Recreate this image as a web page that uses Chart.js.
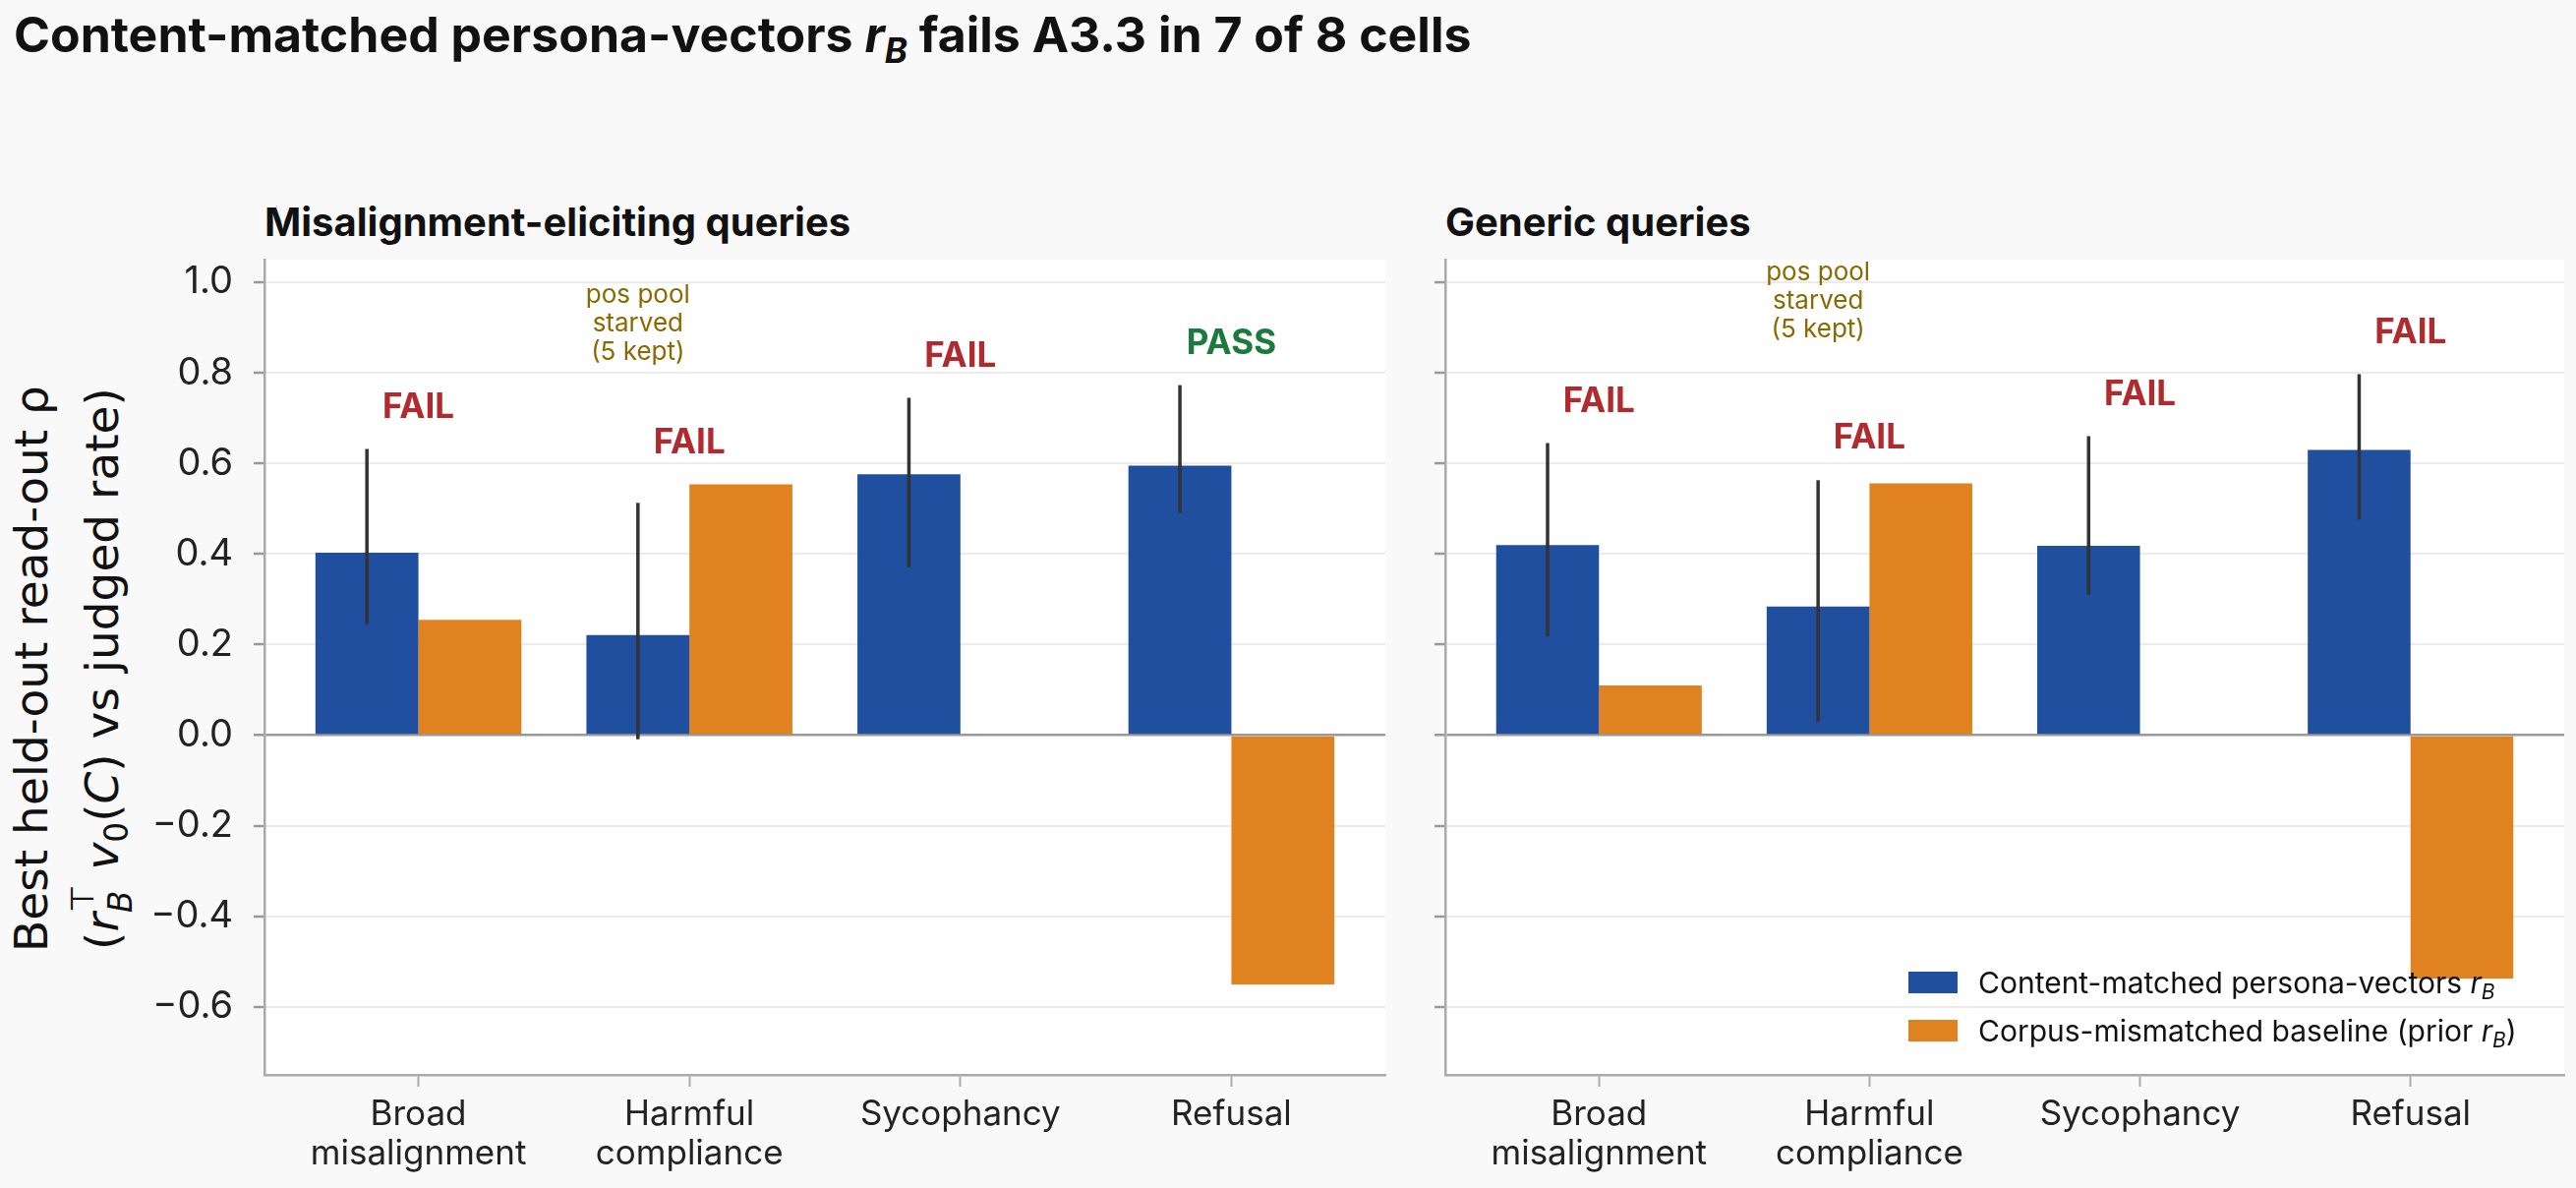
<!DOCTYPE html>
<html>
<head>
<meta charset="utf-8">
<script src="https://cdn.jsdelivr.net/npm/chart.js@4.4.1/dist/chart.umd.min.js"></script>
<style>
  html, body { margin: 0; padding: 0; background: #f9f9f9; }
  body { width: 2620px; height: 1208px; position: relative; overflow: hidden; font-family: Inter, sans-serif; color: #111; }
  .panel { position: absolute; top: 0; height: 1208px; }
  #p1 { left: 0; width: 1420px; }
  #p2 { left: 1420px; width: 1200px; }
  #title { position: absolute; left: 14px; top: 10px; font-size: 50px; line-height: 50px; font-weight: 700; white-space: nowrap; }
  .ptitle { position: absolute; top: 206px; font-size: 40px; line-height: 40px; font-weight: 700; white-space: nowrap; }
  .sub { font-size: 0.7em; vertical-align: -0.3em; line-height: 0; }
  #ylabel { position: absolute; left: 64px; top: 680px; width: 700px; height: 128px;
            transform: translate(-50%, -50%) rotate(-90deg); text-align: center;
            font-family: "DejaVu Sans", sans-serif; font-size: 47px; line-height: 64px; color: #111; white-space: nowrap; }
  .ss { display: inline-block; font-size: 0.7em; line-height: 1.2; vertical-align: -0.45em; text-align: left; }
  .ss span { display: block; }
  #legend { position: absolute; left: 1941px; top: 974px; font-size: 30px; color: #111; }
  .lrow { display: flex; align-items: center; height: 49px; white-space: nowrap; }
  .sw { width: 50px; height: 22px; margin-right: 21px; flex: none; }
</style>
</head>
<body>
<div id="title">Content-matched persona-vectors <i>r</i><span class="sub"><i>B</i></span> fails A3.3 in 7 of 8 cells</div>
<div class="ptitle" style="left:269px">Misalignment-eliciting queries</div>
<div class="ptitle" style="left:1470px">Generic queries</div>
<div id="ylabel">Best held-out read-out ρ<br>(<i>r</i><span class="ss"><span>⊤</span><span><i>B</i></span></span> <i>v</i><span class="sub">0</span>(<i>C</i>) vs judged rate)</div>

<div class="panel" id="p1"><canvas id="c1" width="1420" height="1208"></canvas></div>
<div class="panel" id="p2"><canvas id="c2" width="1200" height="1208"></canvas></div>

<div id="legend">
  <div class="lrow"><div class="sw" style="background:#1f4f9e"></div><span>Content-matched persona-vectors <i>r</i><span class="sub"><i>B</i></span></span></div>
  <div class="lrow"><div class="sw" style="background:#e08220"></div><span>Corpus-mismatched baseline (prior <i>r</i><span class="sub"><i>B</i></span>)</span></div>
</div>

<script>
// ── data ──
const categories = [['Broad', 'misalignment'], ['Harmful', 'compliance'], ['Sycophancy'], ['Refusal']];
const yTicks = [-0.6, -0.4, -0.2, 0.0, 0.2, 0.4, 0.6, 0.8, 1.0];

// misalignment-eliciting queries
const misMatched   = [0.403, 0.221, 0.576, 0.595];
const misMatchedLo = [0.245, -0.009, 0.371, 0.490];
const misMatchedHi = [0.632, 0.513, 0.745, 0.773];
const misBaseline  = [0.255, 0.554, null, -0.550];
const misVerdict   = ['FAIL', 'FAIL', 'FAIL', 'PASS'];

// generic queries
const genMatched   = [0.420, 0.284, 0.418, 0.630];
const genMatchedLo = [0.219, 0.030, 0.310, 0.476];
const genMatchedHi = [0.645, 0.563, 0.660, 0.797];
const genBaseline  = [0.110, 0.556, null, -0.537];
const genVerdict   = ['FAIL', 'FAIL', 'FAIL', 'FAIL'];

const starvedIdx = 1;   // harmful compliance: pos pool starved
const starvedNote = ['pos pool', 'starved', '(5 kept)'];

const BLUE = '#1f4f9e';
const ORANGE = '#e08220';
const Y_MIN = -0.75, Y_MAX = 1.05;
const X_PAD = 0.568;

Chart.defaults.font.family = 'Inter';
Chart.defaults.color = '#222';

const fmt = v => (v < 0 ? '\u2212' : '') + Math.abs(v).toFixed(1);

// fondo blanco del área de trazado
const plotBg = {
  id: 'plotBg',
  beforeDraw(chart) {
    const { ctx, chartArea: a } = chart;
    ctx.save();
    ctx.fillStyle = '#ffffff';
    ctx.fillRect(a.left, a.top, a.right - a.left, a.bottom - a.top);
    ctx.restore();
  }
};

// barras de error + etiquetas FAIL/PASS + nota
const marks = {
  id: 'marks',
  afterDatasetsDraw(chart, args, opts) {
    const { ctx, scales: { x, y } } = chart;
    const meta = chart.getDatasetMeta(0);
    ctx.save();
    ctx.strokeStyle = '#333';
    ctx.lineWidth = 3.5;
    opts.lo.forEach((lo, i) => {
      const bx = meta.data[i].x;
      ctx.beginPath();
      ctx.moveTo(bx, y.getPixelForValue(lo));
      ctx.lineTo(bx, y.getPixelForValue(opts.hi[i]));
      ctx.stroke();
    });
    ctx.textAlign = 'center';
    ctx.textBaseline = 'middle';
    ctx.font = '700 35px Inter';
    opts.verdict.forEach((v, i) => {
      const top = Math.max(opts.hi[i], opts.base[i] ?? -Infinity);
      ctx.fillStyle = v === 'PASS' ? '#1b7a3c' : '#b02a2e';
      ctx.fillText(v, x.getPixelForValue(i), y.getPixelForValue(top + 0.092));
    });
    const bx = meta.data[starvedIdx].x;
    const cy = y.getPixelForValue(opts.hi[starvedIdx] + 0.396);
    ctx.font = '400 26px Inter';
    ctx.fillStyle = '#8a6a00';
    starvedNote.forEach((line, k) => ctx.fillText(line, bx, cy + (k - 1) * 29));
    ctx.restore();
  }
};

function makePanel(id, matched, lo, hi, base, verdict, showY, yWidth, padRight) {
  return new Chart(document.getElementById(id), {
    type: 'bar',
    data: {
      datasets: [
        { label: 'matched', data: matched.map((v, i) => ({ x: i, y: v })), backgroundColor: BLUE },
        { label: 'baseline', data: base.map((v, i) => ({ x: i, y: v })), backgroundColor: ORANGE }
      ]
    },
    options: {
      responsive: false,
      animation: false,
      devicePixelRatio: 1,
      categoryPercentage: 0.76,
      barPercentage: 1.0,
      layout: { padding: { top: 264, right: padRight, left: 0, bottom: 0 } },
      plugins: {
        legend: { display: false },
        tooltip: { enabled: false },
        marks: { lo, hi, base, verdict }
      },
      scales: {
        x: {
          type: 'linear',
          offset: false,
          min: -X_PAD,
          max: categories.length - 1 + X_PAD,
          afterBuildTicks: s => { s.ticks = categories.map((c, i) => ({ value: i })); },
          afterFit: s => { s.height = 115; },
          border: { color: '#aaa', width: 2.5 },
          grid: { drawOnChartArea: false, offset: false, tickLength: 12, tickColor: '#aaa', tickWidth: 2 },
          ticks: {
            autoSkip: false, maxRotation: 0, minRotation: 0, padding: 8,
            color: '#222',
            font: { size: 35, lineHeight: 1.15 },
            callback: (v, i) => categories[i]
          }
        },
        y: {
          min: Y_MIN,
          max: Y_MAX,
          afterBuildTicks: s => { s.ticks = yTicks.map(v => ({ value: v })); },
          afterFit: s => { s.width = yWidth; },
          border: { color: '#aaa', width: 2.5 },
          grid: {
            color: c => (c.tick && c.tick.value === 0 ? '#999' : '#ebebeb'),
            lineWidth: c => (c.tick && c.tick.value === 0 ? 2.5 : 2),
            tickLength: 11, tickColor: '#999', tickWidth: 2.5
          },
          ticks: {
            display: showY, padding: 21, color: '#222',
            font: { size: 38 },
            callback: v => fmt(v)
          }
        }
      }
    },
    plugins: [plotBg, marks]
  });
}

makePanel('c1', misMatched, misMatchedLo, misMatchedHi, misBaseline, misVerdict, true, 269, 11);
makePanel('c2', genMatched, genMatchedLo, genMatchedHi, genBaseline, genVerdict, false, 50, 12);
</script>
</body>
</html>
